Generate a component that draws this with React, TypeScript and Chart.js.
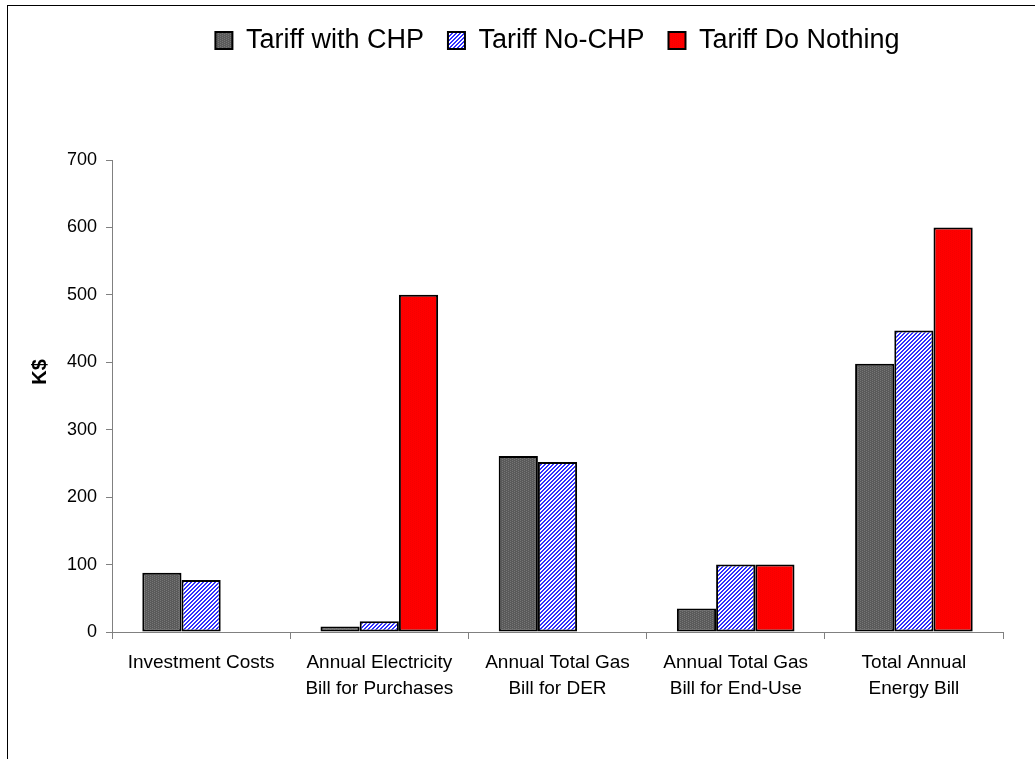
import { useEffect, useRef } from "react";
import { Chart, registerables } from "chart.js";

Chart.register(...registerables);

const FONT = "'Liberation Sans', Arial, Helvetica, sans-serif";

const categories: string[][] = [
  ["Investment Costs"],
  ["Annual Electricity", "Bill for Purchases"],
  ["Annual Total Gas", "Bill for DER"],
  ["Annual Total Gas", "Bill for End-Use"],
  ["Total Annual", "Energy Bill"],
];
const seriesNames = ["Tariff with CHP", "Tariff No-CHP", "Tariff Do Nothing"];
const tariffWithChp = [88, 8, 261, 35, 398];
const tariffNoChp = [77, 16, 252, 100, 447];
const tariffDoNothing: (number | null)[] = [null, 500, null, 100, 600];
const yTickValues = [0, 100, 200, 300, 400, 500, 600, 700];
const yAxisTitle = "K$";

function makePattern(kind: "gray" | "blue" | "red"): CanvasPattern | string {
  const c = document.createElement("canvas");
  c.width = 4;
  c.height = 4;
  const g = c.getContext("2d");
  if (!g) return "#666";
  for (let y = 0; y < 4; y++) {
    for (let x = 0; x < 4; x++) {
      let col = "#fff";
      if (kind === "gray") {
        col = (x + y * 2) % 4 === 0 ? "#767676" : "#5a5a5a";
      } else if (kind === "blue") {
        col = (x + y) % 4 < 2 ? "#3030ff" : "#ffffff";
      } else {
        col = (x + y * 2) % 4 === 0 ? "#f40000" : "#ff0000";
      }
      g.fillStyle = col;
      g.fillRect(x, y, 1, 1);
    }
  }
  const ctx = document.createElement("canvas").getContext("2d");
  const p = ctx ? ctx.createPattern(c, "repeat") : null;
  return p || "#666";
}

const framePlugin = {
  id: "frameAndTitle",
  beforeLayout(chart: any) {
    const lg = chart.legend;
    if (lg && !lg.__patched) {
      const orig = lg.fit.bind(lg);
      lg.fit = () => {
        orig();
        lg.height = 157;
      };
      lg.__patched = true;
    }
  },
  beforeDraw(chart: any) {
    const ctx = chart.ctx;
    ctx.save();
    ctx.fillStyle = "#ffffff";
    ctx.fillRect(0, 0, chart.width, chart.height);
    ctx.strokeStyle = "#000000";
    ctx.lineWidth = 1;
    ctx.strokeRect(7.5, 5.5, chart.width + 50, chart.height + 50);
    ctx.restore();
  },
  afterDraw(chart: any) {
    const ctx = chart.ctx;
    ctx.save();
    ctx.translate(40, 372);
    ctx.rotate(-Math.PI / 2);
    ctx.fillStyle = "#000";
    ctx.font = `bold 20px ${FONT}`;
    ctx.textAlign = "center";
    ctx.textBaseline = "middle";
    ctx.fillText(yAxisTitle, 0, 0);
    ctx.restore();
  },
};

export default function App() {
  const ref = useRef<HTMLCanvasElement | null>(null);

  useEffect(() => {
    if (!ref.current) return;
    const fills = [makePattern("gray"), makePattern("blue"), makePattern("red")];
    const values = [tariffWithChp, tariffNoChp, tariffDoNothing];
    const chart = new Chart(ref.current, {
      type: "bar",
      data: {
        labels: categories,
        datasets: seriesNames.map((name, i) => ({
          label: name,
          data: values[i] as any,
          backgroundColor: fills[i] as any,
          borderColor: "#000000",
          borderWidth: 2,
          borderSkipped: false,
          categoryPercentage: 0.66,
          barPercentage: 1.0,
        })),
      },
      options: {
        animation: false,
        responsive: false,
        devicePixelRatio: 1,
        layout: { padding: { top: 3, left: 0, right: 32, bottom: 0 } },
        plugins: {
          legend: {
            display: true,
            position: "top",
            fullSize: false,
            labels: {
              color: "#000",
              font: { family: FONT, size: 27 },
              boxWidth: 17,
              boxHeight: 17,
              padding: 24,
            },
          },
          tooltip: { enabled: false },
        },
        scales: {
          x: {
            grid: {
              display: true,
              drawOnChartArea: false,
              drawTicks: true,
              tickLength: 7,
              color: "#808080",
              offset: true,
            },
            border: { display: true, color: "#808080", width: 1 },
            ticks: {
              color: "#000",
              font: { family: FONT, size: 19, lineHeight: 1.37 },
              padding: 11,
              maxRotation: 0,
              autoSkip: false,
            },
            afterFit: (s: any) => {
              s.height = 127;
            },
          },
          y: {
            min: 0,
            max: 700,
            afterBuildTicks: (s: any) => {
              s.ticks = yTickValues.map((v) => ({ value: v }));
            },
            grid: {
              display: true,
              drawOnChartArea: false,
              drawTicks: true,
              tickLength: 6,
              color: "#808080",
            },
            border: { display: true, color: "#808080", width: 1 },
            ticks: {
              color: "#000",
              font: { family: FONT, size: 18 },
              padding: 9,
            },
            afterFit: (s: any) => {
              s.width = 112;
            },
          },
        },
      },
      plugins: [framePlugin],
    });
    return () => chart.destroy();
  }, []);

  return (
    <div style={{ position: "absolute", left: 0, top: 0, width: 1035, height: 759 }}>
      <canvas ref={ref} width={1035} height={759} style={{ display: "block" }} />
    </div>
  );
}
